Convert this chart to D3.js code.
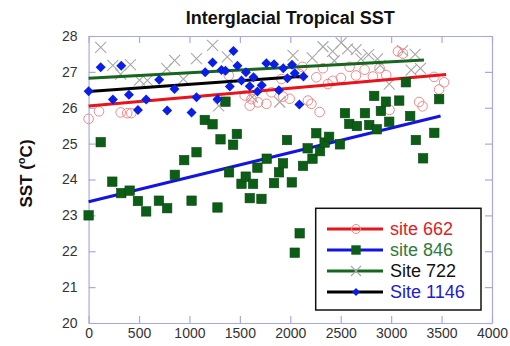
<!DOCTYPE html>
<html>
<head>
<meta charset="utf-8">
<script src="https://cdn.jsdelivr.net/npm/d3@7"></script>
<style>
  html, body { margin: 0; padding: 0; background: #fff; }
  svg { display: block; font-family: "Liberation Sans", Arial, Helvetica, sans-serif; }
</style>
</head>
<body>
<svg id="chart" width="510" height="346"></svg>
<script>
// Axis ticks
const xTicks = [0, 500, 1000, 1500, 2000, 2500, 3000, 3500, 4000];
const yTicks = [20, 21, 22, 23, 24, 25, 26, 27, 28];

// Site 662 SST samples: [age, SST]
const site662 = [
  [0, 25.69], [103, 25.90], [318, 25.87], [383, 25.85], [423, 25.85],
  [1390, 26.9], [1548, 26.34], [1598, 26.06], [1615, 26.24], [1680, 26.15],
  [1763, 26.11], [1813, 26.43], [1912, 26.80], [1928, 26.31], [1994, 26.25],
  [2093, 26.94], [2120, 27.14], [2175, 26.20], [2209, 26.11], [2258, 26.85],
  [2291, 25.88], [2324, 27.10], [2373, 26.66], [2420, 26.75], [2502, 26.83],
  [2588, 27.14], [2651, 26.90], [2737, 27.06], [2819, 26.87], [2885, 27.10],
  [2951, 26.91], [2984, 25.94], [3067, 27.57], [3116, 27.51], [3277, 26.16],
  [3311, 26.04], [3426, 26.86], [3476, 26.51], [3525, 26.71]
];

// Site 846 SST samples
const site846 = [
  [0, 23.0], [120, 25.04], [235, 23.94], [324, 23.62], [407, 23.69],
  [489, 23.40], [571, 23.11], [697, 23.41], [779, 23.20], [855, 24.13],
  [948, 24.54], [1021, 23.41], [1070, 24.76], [1152, 25.66], [1229, 25.54],
  [1278, 23.22], [1308, 25.12], [1357, 26.17], [1393, 24.20], [1433, 24.97],
  [1470, 25.27], [1516, 23.88], [1558, 24.08], [1598, 23.48], [1631, 23.88],
  [1674, 24.33], [1714, 23.46], [1766, 24.58], [1839, 23.90], [1888, 24.20],
  [1928, 24.45], [1967, 25.10], [2015, 23.92], [2044, 21.96], [2093, 22.50],
  [2126, 24.38], [2172, 24.87], [2220, 24.58], [2258, 25.29], [2295, 24.79],
  [2340, 25.03], [2385, 25.19], [2492, 24.98], [2542, 25.85], [2585, 25.55],
  [2660, 25.49], [2740, 25.85], [2783, 25.52], [2832, 26.33], [2858, 25.40],
  [2898, 25.91], [2948, 26.17], [2981, 25.61], [3080, 26.20], [3146, 26.71],
  [3189, 25.77], [3245, 25.10], [3317, 24.59], [3428, 25.30], [3476, 26.24]
];

// Site 722 SST samples
const site722 = [
  [120, 27.68], [240, 27.18], [318, 26.94], [415, 27.20], [505, 26.77],
  [583, 26.76], [775, 27.09], [853, 27.32], [940, 26.80], [1070, 27.37],
  [1229, 27.74], [1290, 26.05], [1375, 27.42], [1623, 26.30], [1895, 26.16],
  [2027, 27.46], [2217, 27.39], [2324, 27.70], [2420, 27.57], [2436, 27.31],
  [2504, 27.81], [2568, 27.64], [2653, 27.62], [2700, 27.36], [2776, 27.48],
  [2865, 27.36], [2891, 27.18], [2981, 26.66], [3113, 27.59], [3198, 27.05],
  [3238, 27.49], [3290, 27.10]
];

// Site 1146 SST samples
const site1146 = [
  [0, 26.46], [120, 27.13], [241, 26.23], [324, 27.17], [400, 26.36],
  [489, 25.94], [571, 26.23], [700, 26.78], [779, 25.92], [852, 26.52],
  [1021, 25.87], [1070, 26.29], [1156, 26.99], [1229, 27.26], [1278, 26.24],
  [1318, 27.05], [1357, 27.03], [1400, 26.59], [1436, 27.58], [1476, 27.17],
  [1516, 26.76], [1560, 26.99], [1598, 26.60], [1635, 26.85], [1674, 26.45],
  [1717, 26.63], [1763, 27.24], [1839, 27.21], [1887, 26.49], [1930, 27.10],
  [1971, 26.82], [2017, 27.20], [2044, 26.96], [2090, 26.09], [2130, 26.87]
];

// Linear fits: [start, end]
const trend662 = [[0, 26.05], [3545, 26.93]];
const trend846 = [[0, 23.38], [3490, 25.77]];
const trend722 = [[0, 26.82], [3325, 27.33]];
const trend1146 = [[0, 26.45], [2130, 26.88]];

const legendLabels = ["site 662", "site 846", "Site 722", "Site 1146"];

const svg = d3.select("#chart");
const plotLeft = 88.6, plotRight = 492, plotTop = 36, plotBottom = 323;

const x = d3.scaleLinear().domain([0, 4000]).range([plotLeft, plotRight]);
const y = d3.scaleLinear().domain([20, 28]).range([plotBottom, plotTop]);

const frameColor = "#a9a9e2";
const tickLen = 7;

// Title
svg.append("text")
  .attr("x", (plotLeft + plotRight) / 2).attr("y", 24)
  .attr("text-anchor", "middle")
  .attr("font-size", 18).attr("font-weight", "bold")
  .attr("fill", "#111")
  .text("Interglacial Tropical SST");

// Y axis label with superscript degree
const yl = svg.append("text")
  .attr("transform", `translate(32,${(plotTop + plotBottom) / 2 - 6}) rotate(-90)`)
  .attr("text-anchor", "middle")
  .attr("font-size", 17).attr("font-weight", "bold")
  .attr("fill", "#111");
yl.append("tspan").text("SST (");
yl.append("tspan").attr("font-size", 11).attr("dy", -7).text("o");
yl.append("tspan").attr("dy", 7).text("C)");

// Axes with inward ticks on all four sides
function styleAxis(g) {
  g.selectAll("path.domain").attr("stroke", frameColor).attr("stroke-width", 1.2);
  g.selectAll(".tick line").attr("stroke", frameColor).attr("stroke-width", 1.2);
  g.selectAll(".tick text").attr("fill", "#333").attr("font-size", 14)
    .attr("font-family", "'Liberation Sans', Arial, sans-serif");
}

svg.append("g").attr("transform", `translate(0,${plotBottom})`)
  .call(d3.axisBottom(x).tickValues(xTicks).tickSizeInner(-tickLen).tickSizeOuter(0).tickPadding(5).tickFormat(d3.format("d")))
  .call(styleAxis);
svg.append("g").attr("transform", `translate(0,${plotTop})`)
  .call(d3.axisTop(x).tickValues(xTicks).tickSizeInner(-tickLen).tickSizeOuter(0).tickFormat(""))
  .call(styleAxis);
svg.append("g").attr("transform", `translate(${plotLeft},0)`)
  .call(d3.axisLeft(y).tickValues(yTicks).tickSizeInner(-tickLen).tickSizeOuter(0).tickPadding(11).tickFormat(d3.format("d")))
  .call(styleAxis);
svg.append("g").attr("transform", `translate(${plotRight},0)`)
  .call(d3.axisRight(y).tickValues(yTicks).tickSizeInner(-tickLen).tickSizeOuter(0).tickFormat(""))
  .call(styleAxis);

// Marker shapes
const xMark = r => `M${-r},${-r}L${r},${r}M${-r},${r}L${r},${-r}`;
const diamond = r => `M0,${-r}L${r},0L0,${r}L${-r},0Z`;

const plot = svg.append("g");

// Site 722: grey crosses
plot.append("g").selectAll("path").data(site722).join("path")
  .attr("transform", d => `translate(${x(d[0])},${y(d[1])})`)
  .attr("d", xMark(5.5))
  .attr("fill", "none").attr("stroke", "#a8a8a8").attr("stroke-width", 1.1);

// Site 662: open red circles
plot.append("g").selectAll("circle").data(site662).join("circle")
  .attr("cx", d => x(d[0])).attr("cy", d => y(d[1])).attr("r", 4.8)
  .attr("fill", "none").attr("stroke", "#f08a8a").attr("stroke-width", 1);

// Trend lines
const line = d3.line().x(d => x(d[0])).y(d => y(d[1]));
const trends = [
  [trend662, "#e8141c"],
  [trend722, "#17661d"],
  [trend1146, "#000000"],
  [trend846, "#1414e0"]
];
plot.append("g").selectAll("path").data(trends).join("path")
  .attr("d", d => line(d[0]))
  .attr("fill", "none").attr("stroke", d => d[1]).attr("stroke-width", 3);

// Site 846: green squares
plot.append("g").selectAll("rect").data(site846).join("rect")
  .attr("x", d => x(d[0]) - 4.7).attr("y", d => y(d[1]) - 4.7)
  .attr("width", 9.4).attr("height", 9.4)
  .attr("fill", "#0c5e16").attr("stroke", "#07470f").attr("stroke-width", 0.6);

// Site 1146: blue diamonds
plot.append("g").selectAll("path").data(site1146).join("path")
  .attr("transform", d => `translate(${x(d[0])},${y(d[1])})`)
  .attr("d", diamond(5))
  .attr("fill", "#0a1ee8");

// Legend
const lg = svg.append("g");
lg.append("rect")
  .attr("x", 315.7).attr("y", 208.3).attr("width", 165.3).attr("height", 101.7)
  .attr("fill", "#fff").attr("stroke", "#111").attr("stroke-width", 1.5);

const legendItems = [
  { label: legendLabels[0], line: "#e8141c", text: "#e0201f", mark: "circle" },
  { label: legendLabels[1], line: "#1414e0", text: "#2f7a3c", mark: "square" },
  { label: legendLabels[2], line: "#17661d", text: "#111111", mark: "cross" },
  { label: legendLabels[3], line: "#000000", text: "#2020d0", mark: "diamond" }
];
const rowY = d3.scalePoint().domain(d3.range(legendItems.length)).range([229, 292]);

legendItems.forEach((it, i) => {
  const cy = rowY(i);
  const g = lg.append("g");
  g.append("line").attr("x1", 327).attr("x2", 383).attr("y1", cy).attr("y2", cy)
    .attr("stroke", it.line).attr("stroke-width", 3);
  if (it.mark === "circle") {
    g.append("circle").attr("cx", 356).attr("cy", cy).attr("r", 4.5)
      .attr("fill", "none").attr("stroke", "#f08a8a").attr("stroke-width", 1);
  } else if (it.mark === "square") {
    g.append("rect").attr("x", 351.3).attr("y", cy - 4.7).attr("width", 9.4).attr("height", 9.4)
      .attr("fill", "#0c5e16");
  } else if (it.mark === "cross") {
    g.append("path").attr("transform", `translate(356,${cy})`).attr("d", xMark(5))
      .attr("stroke", "#a8a8a8").attr("stroke-width", 1.1).attr("fill", "none");
  } else {
    g.append("path").attr("transform", `translate(356,${cy})`).attr("d", diamond(4))
      .attr("fill", "#0a1ee8");
  }
  g.append("text").attr("x", 390).attr("y", cy).attr("dy", "0.36em")
    .attr("font-size", 18).attr("fill", it.text).text(it.label);
});
</script>
</body>
</html>
